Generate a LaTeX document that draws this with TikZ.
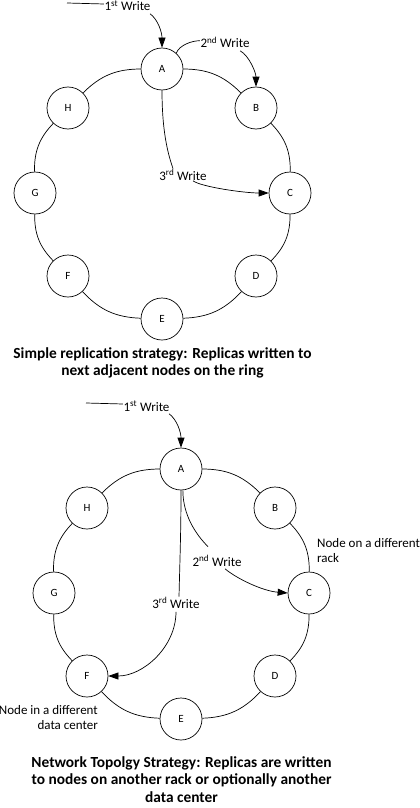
\documentclass[tikz,border=0pt]{standalone}
\usepackage{fontspec}
\setmainfont{Carlito}
\usetikzlibrary{arrows.meta}
\begin{document}
\begin{tikzpicture}[x=1pt,y=-1pt,
  ringnode/.style={circle,draw,fill=white,minimum size=42pt,inner sep=0pt,line width=0.7pt,font=\fontsize{11}{13}\selectfont},
  wl/.style={inner sep=0.5pt,font=\fontsize{13}{15}\selectfont},
  conn/.style={line width=0.7pt},
  arr/.style={conn,-{Triangle[length=10pt,width=7pt]}},
  captext/.style={align=center,inner sep=0pt,font=\fontsize{15.4}{17.8}\selectfont\bfseries},
  notetext/.style={inner sep=0pt,font=\fontsize{13}{15}\selectfont}
]
\useasboundingbox[fill=white] (0,0) rectangle (420,808);
% ---------- top ring ----------
\node[ringnode] (A) at (162,69) {A};
\node[ringnode] (B) at (256,108) {B};
\node[ringnode] (C) at (290,193) {C};
\node[ringnode] (D) at (256,276) {D};
\node[ringnode] (E) at (162,319) {E};
\node[ringnode] (F) at (68,276) {F};
\node[ringnode] (G) at (35,193) {G};
\node[ringnode] (H) at (68,108) {H};
\foreach \s/\t in {A/B,B/C,C/D,D/E,E/F,F/G,G/H,H/A}
  \draw[conn] (\s) to[bend left=22.5] (\t);
\coordinate (s1) at (67,3);
\node[wl,anchor=base] (w1) at (127.5,11) {1\textsuperscript{st} Write};
\node[wl,anchor=base] (w2) at (225,48) {2\textsuperscript{nd} Write};
\node[wl,anchor=base] (w3) at (183,180) {3\textsuperscript{rd} Write};
\draw[conn] (s1) -- ([yshift=2pt]w1.west);
\draw[arr] ([xshift=-1pt,yshift=-2pt]w1.south east) .. controls +(8,6) and +(0,-15) .. (A.north);
\draw[conn] (A.48) .. controls +(3,-8) and +(-8,0) .. ([yshift=2pt]w2.west);
\draw[arr] ([xshift=-10pt,yshift=-2pt]w2.south east) .. controls +(9,5) and +(0,-14) .. (B.north);
\draw[conn] (A.south) .. controls +(0,45) and +(-4,-12) .. ([xshift=-10pt]w3.north);
\draw[arr] ([xshift=10pt]w3.south) .. controls +(8,6) and +(-25,0) .. (C.west);
\node[captext,anchor=north] (cap1) at (162.5,347) {Simple replication strategy: Replicas written to\\next adjacent nodes on the ring};
% ---------- bottom ring ----------
\begin{scope}[shift={(19,400)}]
\node[ringnode] (Ab) at (162,69) {A};
\node[ringnode] (Bb) at (256,108) {B};
\node[ringnode] (Cb) at (290,193) {C};
\node[ringnode] (Db) at (256,276) {D};
\node[ringnode] (Eb) at (162,319) {E};
\node[ringnode] (Fb) at (68,276) {F};
\node[ringnode] (Gb) at (35,193) {G};
\node[ringnode] (Hb) at (68,108) {H};
\foreach \s/\t in {Ab/Bb,Bb/Cb,Cb/Db,Db/Eb,Eb/Fb,Fb/Gb,Gb/Hb,Hb/Ab}
  \draw[conn] (\s) to[bend left=22.5] (\t);
\coordinate (s1b) at (67,3);
\node[wl,anchor=base] (w1b) at (127.5,11) {1\textsuperscript{st} Write};
\node[wl,anchor=base] (w2b) at (198,166) {2\textsuperscript{nd} Write};
\node[wl,anchor=base] (w3b) at (157,208) {3\textsuperscript{rd} Write};
\draw[conn] (s1b) -- ([yshift=2pt]w1b.west);
\draw[arr] ([xshift=-1pt,yshift=-2pt]w1b.south east) .. controls +(8,6) and +(0,-15) .. (Ab.north);
\draw[conn] (Ab.-85) .. controls +(0,25) and +(-12,-12) .. ([xshift=-9pt,yshift=8pt]w2b.north);
\draw[arr] ([xshift=8pt,yshift=-2pt]w2b.south) .. controls +(12,10) and +(-25,-2) .. (Cb.west);
\draw[conn] (Ab.south) .. controls +(0,40) and +(1,-40) .. ([xshift=3pt]w3b.north);
\draw[arr] ([yshift=-3pt]w3b.south) .. controls +(0,35) and +(35,0) .. (Fb.east);
\end{scope}
\node[notetext,anchor=north west,align=left] (n1) at (317,538) {Node on a different\\rack};
\node[notetext,anchor=north east,align=right] (n2) at (98,705) {Node in a different\\data center};
\node[captext,anchor=north] (cap2) at (181.5,756) {Network Topolgy Strategy: Replicas are written\\to nodes on another rack or optionally another\\data center};
\end{tikzpicture}
\end{document}
